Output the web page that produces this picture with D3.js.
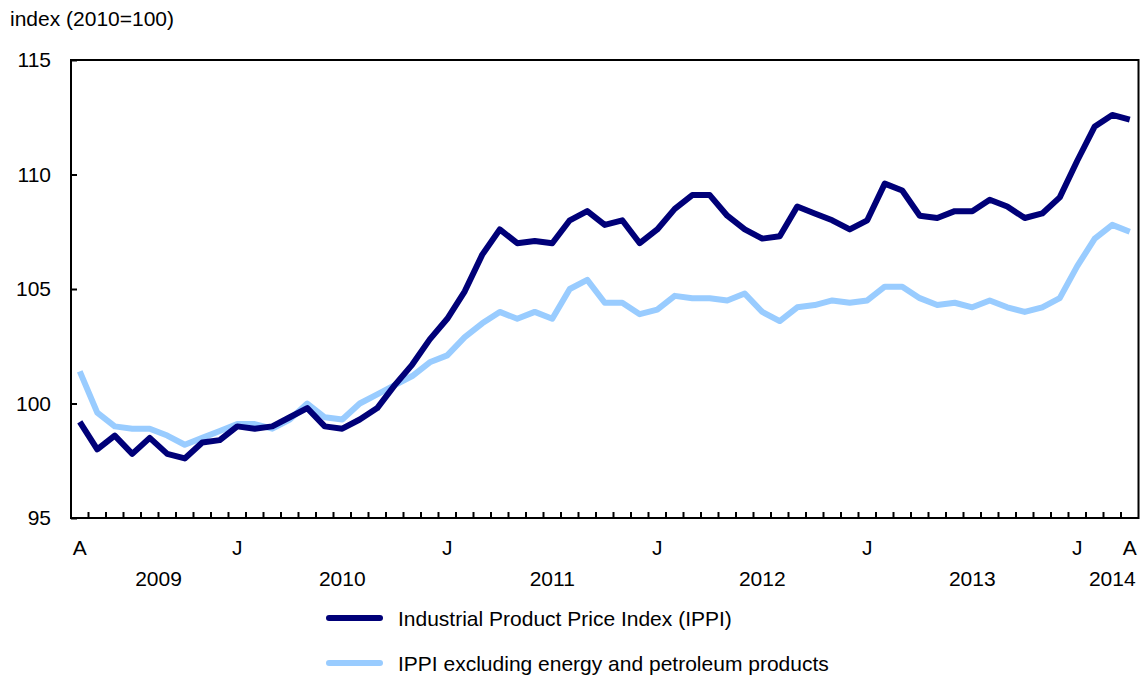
<!DOCTYPE html>
<html>
<head>
<meta charset="utf-8">
<script src="https://cdn.jsdelivr.net/npm/d3@7"></script>
<style>
  body { margin: 0; background: #fff; }
  text { font-family: "Liberation Sans", Arial, Helvetica, sans-serif; fill: #000; }
</style>
</head>
<body>
<div id="chart"></div>
<script>
// months from April 2009 to April 2014
const months = [];
for (let y = 2009; y <= 2014; y++) {
  for (let m = 1; m <= 12; m++) {
    if ((y === 2009 && m < 4) || (y === 2014 && m > 4)) continue;
    months.push(y + "-" + String(m).padStart(2, "0"));
  }
}

const ippi = [99.2, 98.0, 98.6, 97.8, 98.5, 97.8, 97.6, 98.3, 98.4, 99.0,
  98.9, 99.0, 99.4, 99.8, 99.0, 98.9, 99.3, 99.8, 100.8, 101.7,
  102.8, 103.7, 104.9, 106.5, 107.6, 107.0, 107.1, 107.0, 108.0, 108.4,
  107.8, 108.0, 107.0, 107.6, 108.5, 109.1, 109.1, 108.2, 107.6, 107.2,
  107.3, 108.6, 108.3, 108.0, 107.6, 108.0, 109.6, 109.3, 108.2, 108.1,
  108.4, 108.4, 108.9, 108.6, 108.1, 108.3, 109.0, 110.6, 112.1, 112.6, 112.4];

const ippiExEnergy = [101.4, 99.6, 99.0, 98.9, 98.9, 98.6, 98.2, 98.5, 98.8, 99.1,
  99.1, 98.9, 99.3, 100.0, 99.4, 99.3, 100.0, 100.4, 100.8, 101.2,
  101.8, 102.1, 102.9, 103.5, 104.0, 103.7, 104.0, 103.7, 105.0, 105.4,
  104.4, 104.4, 103.9, 104.1, 104.7, 104.6, 104.6, 104.5, 104.8, 104.0,
  103.6, 104.2, 104.3, 104.5, 104.4, 104.5, 105.1, 105.1, 104.6, 104.3,
  104.4, 104.2, 104.5, 104.2, 104.0, 104.2, 104.6, 106.0, 107.2, 107.8, 107.5];

const monthLabels = { "2009-04": "A", "2010-01": "J", "2011-01": "J", "2012-01": "J",
  "2013-01": "J", "2014-01": "J", "2014-04": "A" };
const years = ["2009", "2010", "2011", "2012", "2013", "2014"];
const yTicks = [95, 100, 105, 110, 115];

const seriesNames = ["Industrial Product Price Index (IPPI)",
  "IPPI excluding energy and petroleum products"];
const colors = ["#000078", "#99ccff"];

const width = 1142, height = 675;
const margin = { top: 60, right: 3.5, bottom: 157, left: 71 };
const fontSize = "21px";

const svg = d3.select("#chart").append("svg")
  .attr("width", width)
  .attr("height", height);

const x = d3.scaleBand()
  .domain(months)
  .range([margin.left, width - margin.right])
  .padding(0);
const y = d3.scaleLinear()
  .domain([95, 115])
  .range([height - margin.bottom, margin.top]);

const bw = x.bandwidth();
const cx = m => x(m) + bw / 2;

// y axis
const yAxis = svg.append("g")
  .attr("transform", "translate(" + margin.left + ",0)")
  .call(d3.axisLeft(y).tickValues(yTicks).tickSize(-6).tickPadding(20));
yAxis.select(".domain").remove();
yAxis.selectAll("line").attr("stroke", "#000").attr("stroke-width", 2);
yAxis.selectAll("text").attr("font-size", fontSize)
  .style("font-family", "'Liberation Sans', Arial, sans-serif");

// month ticks at month boundaries
svg.append("g").selectAll("line")
  .data(months.slice(1))
  .enter().append("line")
  .attr("x1", d => x(d)).attr("x2", d => x(d))
  .attr("y1", y(95)).attr("y2", y(95) - 6)
  .attr("stroke", "#000").attr("stroke-width", 2);

// month labels
const xAxis = svg.append("g")
  .attr("transform", "translate(0," + y(95) + ")")
  .call(d3.axisBottom(x)
    .tickValues(Object.keys(monthLabels))
    .tickSize(0).tickPadding(22)
    .tickFormat(d => monthLabels[d]));
xAxis.select(".domain").remove();
xAxis.selectAll("text").attr("font-size", fontSize)
  .style("font-family", "'Liberation Sans', Arial, sans-serif");

// year labels, centred under each year's months
svg.append("g").selectAll("text")
  .data(years)
  .enter().append("text")
  .attr("x", yr => {
    const ms = months.filter(m => m.startsWith(yr));
    return (x(ms[0]) + x(ms[ms.length - 1]) + bw) / 2 + bw / 2;
  })
  .attr("y", 586)
  .attr("text-anchor", "middle")
  .attr("font-size", fontSize)
  .text(d => d);

// frame
svg.append("rect")
  .attr("x", margin.left)
  .attr("y", margin.top)
  .attr("width", width - margin.right - margin.left)
  .attr("height", y(95) - margin.top)
  .attr("fill", "none")
  .attr("stroke", "#000")
  .attr("stroke-width", 2);

// lines
const line = d3.line()
  .x((d, i) => cx(months[i]))
  .y(d => y(d));

[ippiExEnergy, ippi].forEach((s, k) => {
  svg.append("path")
    .attr("d", line(s))
    .attr("fill", "none")
    .attr("stroke", colors[1 - k])
    .attr("stroke-width", 6)
    .attr("stroke-linejoin", "round");
});

// unit label
svg.append("text")
  .attr("x", 10)
  .attr("y", 26)
  .attr("font-size", fontSize)
  .text("index (2010=100)");

// legend
seriesNames.forEach((name, i) => {
  const ly = 618 + i * 45;
  svg.append("line")
    .attr("x1", 329).attr("x2", 380)
    .attr("y1", ly).attr("y2", ly)
    .attr("stroke", colors[i])
    .attr("stroke-width", 6)
    .attr("stroke-linecap", "round");
  svg.append("text")
    .attr("x", 398)
    .attr("y", ly)
    .attr("dy", "0.36em")
    .attr("font-size", fontSize)
    .text(name);
});
</script>
</body>
</html>
